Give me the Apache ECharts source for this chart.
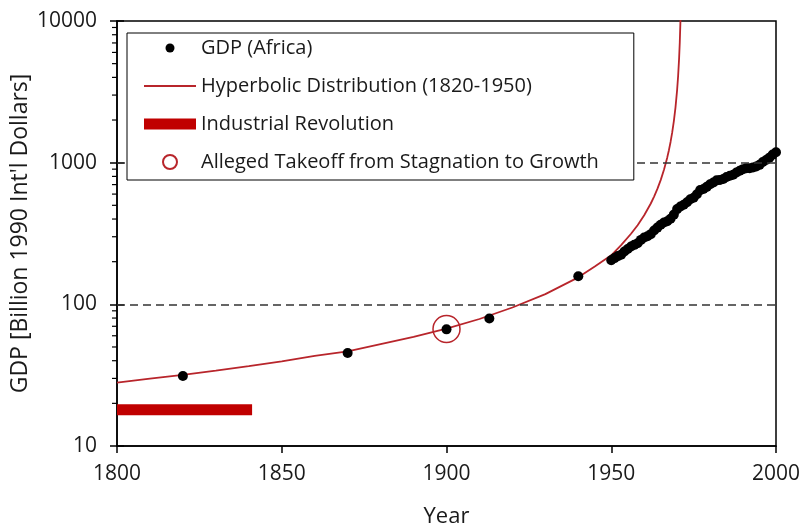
<!DOCTYPE html>
<html>
<head>
<meta charset="utf-8">
<script src="https://cdn.jsdelivr.net/npm/echarts@6/dist/echarts.min.js"></script>
<style>
  html, body { margin: 0; padding: 0; background: #fff; }
  #chart { width: 799px; height: 526px; }
</style>
</head>
<body>
<div id="chart"></div>
<script>
// GDP of Africa, billion 1990 Int'l dollars
const gdpYears = [1820, 1870, 1900, 1913, 1940,
  1950, 1951, 1952, 1953, 1954, 1955, 1956, 1957, 1958, 1959,
  1960, 1961, 1962, 1963, 1964, 1965, 1966, 1967, 1968, 1969,
  1970, 1971, 1972, 1973, 1974, 1975, 1976, 1977, 1978, 1979,
  1980, 1981, 1982, 1983, 1984, 1985, 1986, 1987, 1988, 1989,
  1990, 1991, 1992, 1993, 1994, 1995, 1996, 1997, 1998, 1999, 2000]
const gdpValues = [31.2, 45.4, 66.6, 79.5, 158,
  205, 212, 219, 224, 236, 246, 256, 263, 270, 285,
  296, 302, 313, 332, 348, 365, 378, 386, 402, 430,
  470, 490, 505, 525, 552, 566, 598, 640, 652, 675,
  705, 725, 750, 756, 766, 792, 808, 822, 852, 878,
  900, 912, 915, 925, 940, 965, 1010, 1045, 1085, 1140, 1185]

// hyperbolic distribution (1820-1950) as drawn
const hypYears = [1800, 1810, 1820, 1830, 1840, 1850, 1860, 1870, 1880, 1890,
  1900, 1910, 1920, 1930, 1940, 1945, 1950, 1953, 1956, 1958, 1960, 1962,
  1963, 1964, 1965, 1966, 1967, 1967.5, 1968, 1968.5, 1969, 1969.5, 1970,
  1970.3, 1970.6, 1970.8, 1971, 1971.1]
const hypValues = [28.0, 29.9, 31.8, 34.0, 36.6, 39.6, 43.2, 46.5, 52.4, 59.0,
  67.3, 78.8, 95.0, 118, 155, 185, 222, 262, 315, 362, 425, 515,
  576, 653, 753, 890, 1089, 1225, 1400, 1635, 1964, 2457, 3282,
  4110, 5494, 7087, 9980, 12540]

const irYears = [1800, 1841]
const irLevel = 18
const takeoffYear = 1900
const takeoffValue = 67
const refLevels = [100, 1000]
const minorTickValues = [20, 30, 40, 50, 60, 70, 80, 90,
  200, 300, 400, 500, 600, 700, 800, 900,
  2000, 3000, 4000, 5000, 6000, 7000, 8000, 9000]

const RED = '#c00000'
const LINE_RED = '#b8252b'
const FONT = 'Open Sans'
const TXT = '#1a1a1a'

// legend icons: the leading M points fix the box the shape is fitted into
const DOT_ICON = 'path://M0,0M52,14M26,2.5A4.5,4.5,0,1,1,26,11.5A4.5,4.5,0,1,1,26,2.5Z'
const THIN_ICON = 'path://M0,0M52,14M0,6.1H52V7.9H0Z'
const BAR_ICON = 'path://M0,0M52,14M0,1.5H52V12.5H0Z'

const chart = echarts.init(document.getElementById('chart'), null, { renderer: 'canvas' })

chart.setOption({
  animation: false,
  backgroundColor: '#fff',
  grid: {
    left: 117, right: 23, top: 21, bottom: 80,
    containLabel: false,
    outerBoundsMode: 'none',
    show: true, borderColor: '#000', borderWidth: 1.5,
  },
  legend: {
    orient: 'vertical',
    left: 127,
    top: 33,
    itemWidth: 52,
    itemHeight: 14,
    itemGap: 18,
    padding: [5, 35, 8, 17],
    backgroundColor: '#fff',
    borderColor: '#000',
    borderWidth: 1,
    textStyle: { fontFamily: FONT, fontSize: 20, lineHeight: 20, color: TXT },
    z: 6,
    data: [
      { name: 'GDP (Africa)', icon: DOT_ICON, itemStyle: { color: '#000', borderWidth: 0, opacity: 1 } },
      { name: 'Hyperbolic Distribution (1820-1950)', icon: THIN_ICON, itemStyle: { color: LINE_RED, borderWidth: 0 } },
      { name: 'Industrial Revolution', icon: BAR_ICON, itemStyle: { color: RED, borderWidth: 0 } },
      { name: 'Alleged Takeoff from Stagnation to Growth', itemStyle: { opacity: 1 } },
    ],
  },
  xAxis: {
    type: 'value',
    min: 1800, max: 2000, interval: 50,
    name: 'Year',
    nameLocation: 'middle',
    nameGap: 60,
    nameMoveOverlap: false,
    nameTextStyle: { fontFamily: FONT, fontSize: 22, color: TXT },
    axisLine: { lineStyle: { color: '#000', width: 1.5 } },
    axisTick: { length: 7, lineStyle: { color: '#000', width: 1.5 } },
    axisLabel: { fontFamily: FONT, fontSize: 21, color: TXT, margin: 18, formatter: v => String(v) },
    splitLine: { show: false },
  },
  yAxis: [
    {
      type: 'log', logBase: 10,
      min: 10, max: 10000,
      name: "GDP [Billion 1990 Int'l Dollars]",
      nameLocation: 'middle',
      nameGap: 85,
      nameMoveOverlap: false,
      nameTextStyle: { fontFamily: FONT, fontSize: 23, color: TXT },
      axisLine: { lineStyle: { color: '#000', width: 1.5 } },
      axisTick: { length: 7, lineStyle: { color: '#000', width: 1.5 } },
      axisLabel: { fontFamily: FONT, fontSize: 21, color: TXT, margin: 20, formatter: v => String(v) },
      splitLine: { show: false },
    },
    {
      // same scale, only the inner half of the major ticks
      type: 'log', logBase: 10,
      min: 10, max: 10000,
      position: 'left',
      axisLine: { show: false },
      axisTick: { inside: true, length: 7, lineStyle: { color: '#000', width: 1.5 } },
      axisLabel: { show: false },
      splitLine: { show: false },
    },
  ],
  series: [
    {
      // minor ticks of the log axis
      type: 'custom',
      silent: true,
      clip: false,
      data: minorTickValues.map(v => [1800, v]),
      renderItem: (params, api) => {
        const p = api.coord([api.value(0), api.value(1)])
        return {
          type: 'line',
          shape: { x1: p[0] - 5, y1: p[1], x2: p[0], y2: p[1] },
          style: { stroke: '#000', lineWidth: 1.2 },
        }
      },
      z: 1,
    },
    {
      name: 'Industrial Revolution',
      type: 'line',
      data: irYears.map(y => [y, irLevel]),
      symbol: 'none',
      color: RED,
      lineStyle: { color: RED, width: 11 },
      markLine: {
        silent: true,
        symbol: 'none',
        label: { show: false },
        lineStyle: { color: '#333', type: [8, 5], width: 1.5 },
        data: refLevels.map(v => ({ yAxis: v })),
      },
      z: 2,
    },
    {
      name: 'Hyperbolic Distribution (1820-1950)',
      type: 'line',
      data: hypYears.map((y, i) => [y, hypValues[i]]),
      symbol: 'none',
      clip: true,
      color: LINE_RED,
      lineStyle: { color: LINE_RED, width: 1.8 },
      z: 3,
    },
    {
      name: 'GDP (Africa)',
      type: 'scatter',
      data: gdpYears.map((y, i) => [y, gdpValues[i]]),
      symbol: 'circle',
      symbolSize: 10,
      itemStyle: { color: '#000', opacity: 1 },
      z: 4,
    },
    {
      name: 'Alleged Takeoff from Stagnation to Growth',
      type: 'scatter',
      data: [[takeoffYear, takeoffValue]],
      symbol: 'circle',
      symbolSize: 27,
      itemStyle: { color: 'rgba(255,255,255,0)', borderColor: '#b8252b', borderWidth: 1.5, opacity: 1 },
      z: 5,
    },
  ],
})
</script>
</body>
</html>
